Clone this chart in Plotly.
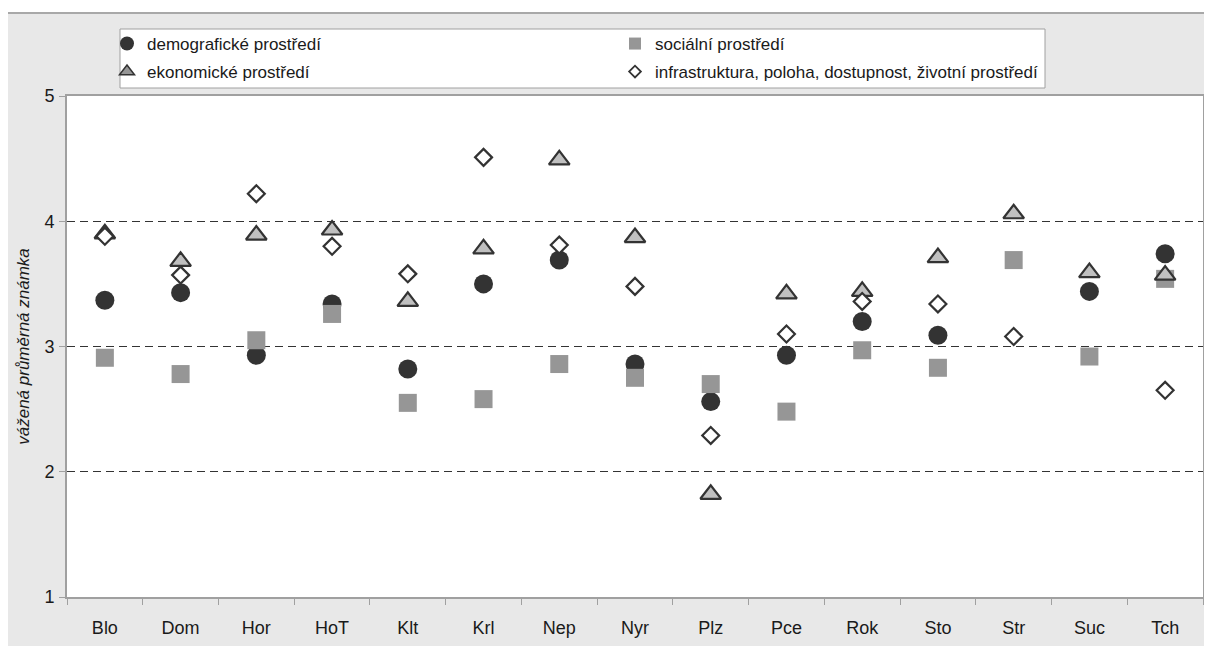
import plotly.graph_objects as go

categories = ["Blo", "Dom", "Hor", "HoT", "Klt", "Krl", "Nep", "Nyr", "Plz", "Pce", "Rok", "Sto", "Str", "Suc", "Tch"]
demograficke = [3.37, 3.43, 2.93, 3.34, 2.82, 3.50, 3.69, 2.86, 2.56, 2.93, 3.20, 3.09, None, 3.44, 3.74]
socialni = [2.91, 2.78, 3.05, 3.26, 2.55, 2.58, 2.86, 2.75, 2.70, 2.48, 2.97, 2.83, 3.69, 2.92, 3.54]
ekonomicke = [3.90, 3.68, 3.89, 3.93, 3.36, 3.78, 4.49, 3.87, 1.82, 3.42, 3.44, 3.71, 4.06, 3.59, 3.57]
infrastruktura = [3.88, 3.57, 4.22, 3.80, 3.58, 4.51, 3.81, 3.48, 2.29, 3.10, 3.36, 3.34, 3.08, None, 2.65]

names = ["demografické prostředí", "sociální prostředí", "ekonomické prostředí",
         "infrastruktura, poloha, dostupnost, životní prostředí"]
y_ticks = [1, 2, 3, 4, 5]

FONT = "Liberation Sans, Arial, sans-serif"
DARK = "#333333"
TXT = "#1a1a1a"

styles = [
    dict(symbol="circle", size=19, color=DARK, line=dict(width=0)),
    dict(symbol="square", size=18, color="#969696", line=dict(width=0)),
    dict(symbol="triangle-up", size=18, color="#c0c0c0", line=dict(width=2.2, color=DARK)),
    dict(symbol="diamond", size=13, color="white", line=dict(width=2.2, color=DARK)),
]
legend_styles = [
    dict(symbol="circle", size=14, color=DARK, line=dict(width=0)),
    dict(symbol="square", size=12, color="#969696", line=dict(width=0)),
    dict(symbol="triangle-up", size=13, color="#969696", line=dict(width=1.5, color=DARK)),
    dict(symbol="diamond", size=9, color="white", line=dict(width=1.8, color=DARK)),
]
legend_ids = ["legend", "legend", "legend2", "legend2"]
series = [demograficke, socialni, ekonomicke, infrastruktura]

fig = go.Figure()
for name, vals, st in zip(names, series, styles):
    fig.add_trace(go.Scatter(x=categories, y=vals, mode="markers", name=name,
                             marker=st, showlegend=False, cliponaxis=False))
for name, st, lg in zip(names, legend_styles, legend_ids):
    fig.add_trace(go.Scatter(x=[None], y=[None], mode="markers", name=name,
                             marker=st, showlegend=True, legend=lg))

# The page body adds an 8px offset; figure coords = screen coords - 8.
OFF = 8
X0, X1, Y0, Y1 = 67 - OFF, 1203 - OFF, 96 - OFF, 597 - OFF
W, H = 1212, 646


def px(x):
    return (x - OFF - X0) / (X1 - X0)


def py(y):
    return (Y1 - (y - OFF)) / (Y1 - Y0)


legend_common = dict(
    orientation="h", xanchor="left", yanchor="middle",
    bgcolor="rgba(0,0,0,0)", borderwidth=0,
    font=dict(family=FONT, size=17, color=TXT),
    entrywidth=463, itemwidth=30, traceorder="normal",
)

fig.update_layout(
    width=W, height=H,
    margin=dict(l=X0, r=W - X1, t=Y0, b=H - Y1, autoexpand=False),
    paper_bgcolor="#e8e8e8",
    plot_bgcolor="white",
    font=dict(family=FONT, size=17, color=TXT),
    legend=dict(legend_common, x=px(107), y=py(44)),
    legend2=dict(legend_common, x=px(107), y=py(72)),
    xaxis=dict(
        type="category", categoryorder="array", categoryarray=categories,
        range=[-0.5, len(categories) - 0.5],
        tickson="boundaries", ticks="outside", ticklen=6, tickcolor="#a0a0a0", tickwidth=1,
        showline=True, linecolor="#a0a0a0", linewidth=2, mirror=True,
        showgrid=False, tickfont=dict(size=18, color=TXT),
        ticklabelstandoff=13, automargin=False,
    ),
    yaxis=dict(
        range=[1, 5], tickvals=y_ticks, ticks="outside", ticklen=6,
        tickcolor="#a0a0a0", tickwidth=1,
        showline=True, linecolor="#a0a0a0", linewidth=2, mirror=True,
        showgrid=True, gridcolor="#333333", griddash="8px,5px", gridwidth=1,
        zeroline=False, tickfont=dict(size=18, color=TXT),
        ticklabelstandoff=1, automargin=False,
        title=dict(text="vážená průměrná známka", standoff=10,
                   font=dict(size=17, style="italic", color=TXT)),
    ),
    shapes=[
        dict(type="rect", xref="paper", yref="paper", x0=-0.2, x1=1.2, y0=py(13), y1=1.4,
             fillcolor="white", line=dict(width=0), layer="above"),
        dict(type="line", xref="paper", yref="paper", x0=-0.2, x1=1.2, y0=py(13), y1=py(13),
             line=dict(width=2, color="#a8a8a8"), layer="above"),
        dict(type="rect", xref="paper", yref="paper", x0=px(120), x1=px(1045), y0=py(29), y1=py(88),
             fillcolor="white", line=dict(width=1, color="#a0a0a0"), layer="above"),
    ],
)

fig.write_html("out.html")
